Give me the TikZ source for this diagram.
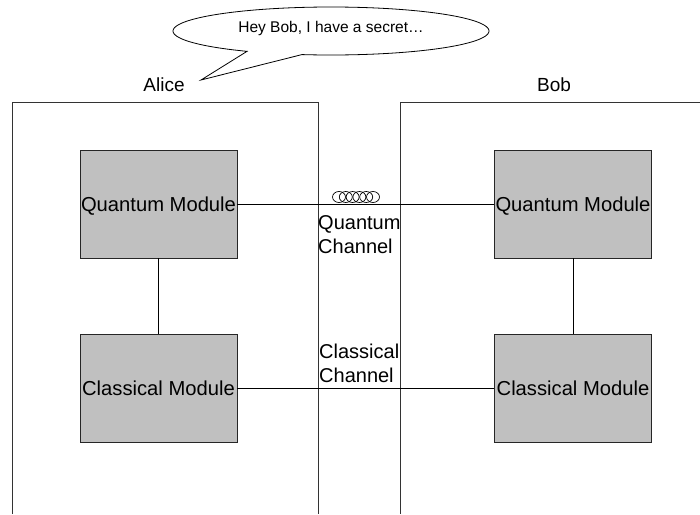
\documentclass[tikz,border=0pt]{standalone}
\usepackage{fontspec}
\setmainfont{Liberation Sans}
\begin{document}
\begin{tikzpicture}[x=1pt,y=-1pt,
  module/.style={draw=black!85,line width=0.8pt,fill=modgray,rectangle,minimum width=157pt,minimum height=108pt,inner sep=0pt,text height=15pt,text depth=0pt,font=\fontsize{20.2}{24}\selectfont},
  container/.style={draw=black!80,line width=0.8pt},
  link/.style={draw=black,line width=0.8pt},
  chanlabel/.style={anchor=north west,inner sep=0pt,align=left,font=\fontsize{20}{24}\selectfont},
  party/.style={inner sep=0pt,font=\fontsize{19}{22}\selectfont}]
\definecolor{modgray}{HTML}{C0C0C0}
\useasboundingbox (0,0) rectangle (700,514);
% containers
\draw[container] (12,514) -- (12,102) -- (318,102) -- (318,514);
\draw[container] (700,102) -- (400,102) -- (400,514);
\node[party] (alice) at (164,85) {Alice};
\node[party] (bob) at (554,85) {Bob};
% speech bubble
\draw[line width=0.8pt,fill=white] plot[domain=122.1:460.6,samples=120,smooth] ({331+158*cos(\x)},{31+24*sin(\x)}) -- (201,80) -- cycle;
\node[inner sep=0pt,font=\fontsize{15.5}{18}\selectfont] (secret) at (331,28) {Hey Bob, I have a secret…};
% modules
\node[module] (aq) at (158.5,204) {Quantum Module};
\node[module] (ac) at (158.5,388) {Classical Module};
\node[module] (bq) at (573,204) {Quantum Module};
\node[module] (bc) at (573,388) {Classical Module};
% connectors
\draw[link] (aq.east) -- (bq.west);
\draw[link] (ac.east) -- (bc.west);
\draw[link] (aq.south) -- (ac.north);
\draw[link] (bq.south) -- (bc.north);
% coil
\foreach \i in {0,...,5} \draw[line width=0.7pt] (339+6.8*\i,197) ellipse [x radius=6.5pt, y radius=5.5pt];
% channel labels
\node[chanlabel] (qch) at (318,215) {Quantum\\Channel};
\node[chanlabel] (cch) at (319,344) {Classical\\Channel};
\end{tikzpicture}
\end{document}
